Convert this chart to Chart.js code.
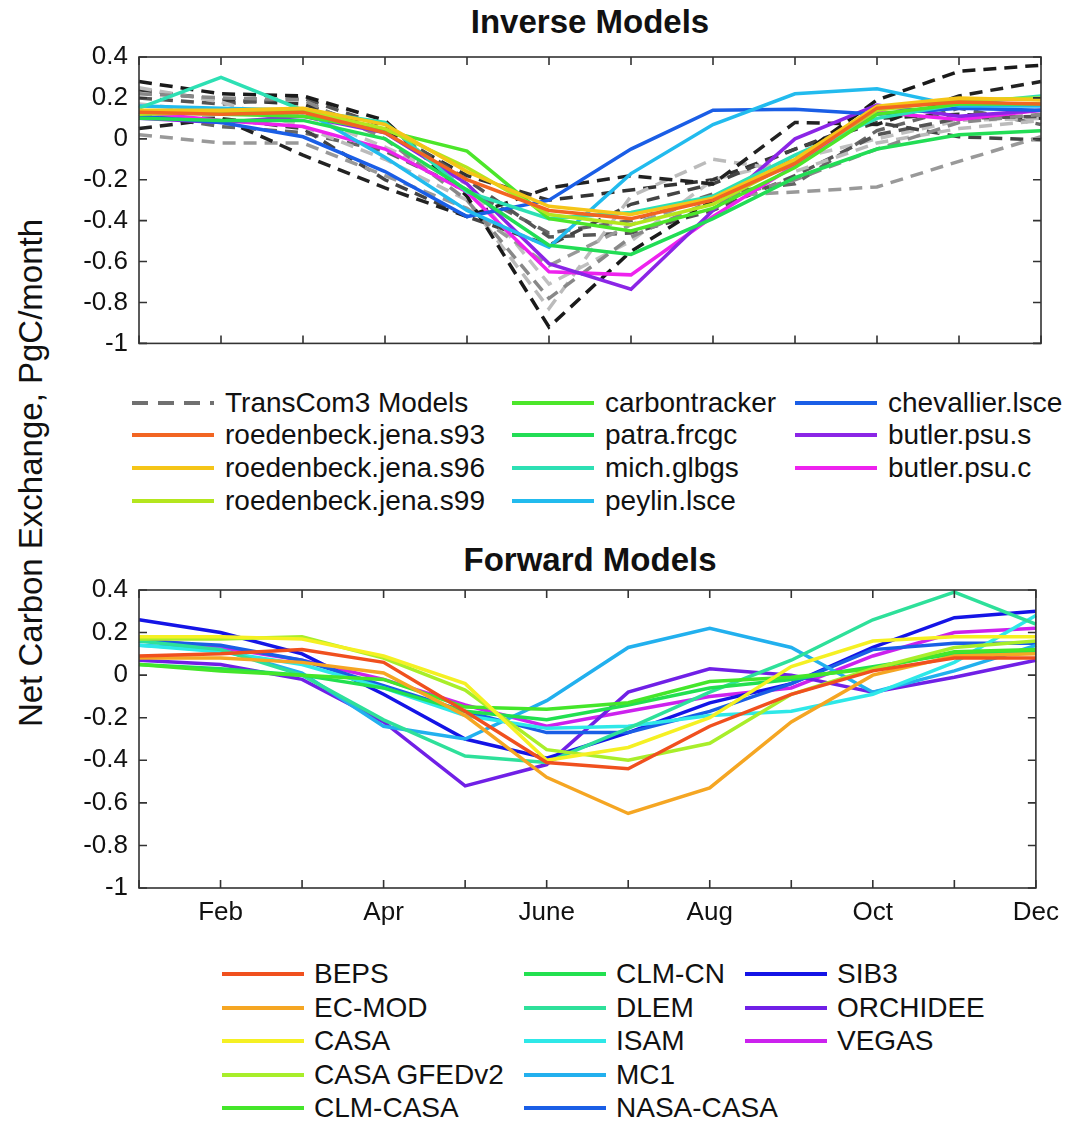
<!DOCTYPE html>
<html>
<head>
<meta charset="utf-8">
<script src="https://cdn.jsdelivr.net/npm/chart.js@4.4.1/dist/chart.umd.min.js"></script>
<style>
  html, body { margin:0; padding:0; background:#fff; }
  body { width:1068px; height:1123px; position:relative; overflow:hidden; font-family:"Liberation Sans", Arial, sans-serif; color:#111; }
  .wrap { position:absolute; left:0; width:1068px; }
  .title { position:absolute; left:139px; width:902px; text-align:center; font-weight:bold; font-size:33px; line-height:40px; }
  .ylab { position:absolute; left:31px; top:473px; font-size:33px; white-space:nowrap; transform:translate(-50%,-50%) rotate(-90deg); }
  .leg { position:absolute; font-size:28px; white-space:nowrap; }
  .leg svg { position:absolute; }
</style>
</head>
<body>
<div class="title" style="top:2px;">Inverse Models</div>
<div class="title" style="top:540px;">Forward Models</div>
<div class="ylab">Net Carbon Exchange, PgC/month</div>
<div class="wrap" style="top:0;height:370px;"><canvas id="c1"></canvas></div>
<div class="wrap" style="top:540px;height:400px;"><canvas id="c2"></canvas></div>
<div id="legends"></div>
<script>
// ---------- data ----------
const months = ['Jan','Feb','Mar','Apr','May','June','July','Aug','Sep','Oct','Nov','Dec'];
const xTickLabels = ['', 'Feb', '', 'Apr', '', 'June', '', 'Aug', '', 'Oct', '', 'Dec'];
const yTicks = [0.4, 0.2, 0, -0.2, -0.4, -0.6, -0.8, -1];

// Inverse models
const invNames = ['roedenbeck.jena.s93','roedenbeck.jena.s96','roedenbeck.jena.s99','carbontracker','patra.frcgc','mich.glbgs','peylin.lsce','chevallier.lsce','butler.psu.s','butler.psu.c'];
const roedenbeckS93 = [0.13,0.12,0.13,0.03,-0.20,-0.35,-0.39,-0.30,-0.12,0.15,0.18,0.17];
const roedenbeckS96 = [0.14,0.14,0.15,0.07,-0.16,-0.33,-0.37,-0.29,-0.10,0.16,0.20,0.19];
const roedenbeckS99 = [0.12,0.13,0.14,0.05,-0.14,-0.37,-0.42,-0.32,-0.11,0.14,0.19,0.20];
const carbontracker = [0.13,0.12,0.11,0.04,-0.06,-0.39,-0.45,-0.34,-0.14,0.12,0.17,0.17];
const patraFrcgc    = [0.10,0.09,0.09,0.00,-0.25,-0.52,-0.565,-0.39,-0.19,-0.05,0.02,0.04];
const michGlbgs     = [0.15,0.30,0.14,0.08,-0.26,-0.39,-0.36,-0.28,-0.08,0.10,0.17,0.21];
const peylinLsce    = [0.16,0.15,0.14,-0.09,-0.35,-0.53,-0.17,0.07,0.22,0.245,0.16,0.16];
const chevallierLsce= [0.11,0.08,0.01,-0.16,-0.38,-0.30,-0.05,0.14,0.145,0.12,0.15,0.14];
const butlerPsuS    = [0.10,0.08,0.11,0.03,-0.22,-0.61,-0.735,-0.35,0.00,0.165,0.11,0.14];
const butlerPsuC    = [0.13,0.09,0.06,-0.05,-0.26,-0.65,-0.665,-0.38,-0.13,0.13,0.095,0.14];
const invColors = ['#f26522','#f5c518','#b4e61e','#4ce62a','#22dd55','#2de0b4','#22bbee','#1a5ee6','#8b25e6','#ee22ee'];

// TransCom3 models (dashed)
const transcomName = 'TransCom3 Models';
const tc1  = [0.28,0.22,0.21,0.09,-0.28,-0.92,-0.55,-0.30,-0.10,0.19,0.33,0.36];
const tc2  = [0.05,0.10,-0.08,-0.24,-0.38,-0.24,-0.18,-0.22,0.08,0.07,0.21,0.28];
const tc3  = [0.22,0.20,0.19,0.00,-0.30,-0.78,-0.48,-0.30,-0.20,-0.05,0.08,0.12];
const tc4  = [0.25,0.18,0.06,-0.10,-0.30,-0.83,-0.28,-0.10,-0.16,-0.02,0.05,0.09];
const tc5  = [0.02,-0.02,-0.02,-0.18,-0.34,-0.62,-0.42,-0.28,-0.26,-0.235,-0.11,0.01];
const tc6  = [0.10,0.10,0.05,-0.20,-0.38,-0.52,-0.32,-0.22,-0.05,0.08,0.01,-0.005];
const tc7  = [0.20,0.17,0.20,0.06,-0.20,-0.48,-0.46,-0.35,-0.18,0.02,0.10,0.11];
const tc8  = [0.17,0.13,0.12,-0.04,-0.22,-0.71,-0.50,-0.20,-0.10,0.00,0.09,0.10];
const tc9  = [0.12,0.06,0.03,-0.06,-0.25,-0.46,-0.40,-0.27,-0.22,0.04,0.15,0.07];
const tc10 = [0.24,0.19,0.17,0.04,-0.18,-0.30,-0.25,-0.20,-0.05,0.10,0.12,0.10];
const tcColors = ['#1a1a1a','#222222','#888888','#bbbbbb','#999999','#444444','#555555','#c0c0c0','#666666','#333333'];
const tcLegendColor = '#707070';

// Forward models
const fwdNames = ['BEPS','EC-MOD','CASA','CASA GFEDv2','CLM-CASA','CLM-CN','DLEM','ISAM','MC1','NASA-CASA','SIB3','ORCHIDEE','VEGAS'];
const beps     = [0.09,0.10,0.12,0.06,-0.17,-0.41,-0.44,-0.24,-0.09,0.02,0.08,0.08];
const ecMod    = [0.08,0.08,0.06,0.01,-0.19,-0.48,-0.65,-0.53,-0.22,0.00,0.09,0.10];
const casa     = [0.18,0.18,0.17,0.09,-0.04,-0.40,-0.34,-0.20,0.04,0.16,0.18,0.18];
const casaGfed = [0.17,0.17,0.18,0.08,-0.07,-0.35,-0.40,-0.32,-0.09,0.03,0.13,0.16];
const clmCasa  = [0.05,0.02,0.00,-0.02,-0.15,-0.16,-0.13,-0.03,-0.01,0.03,0.11,0.12];
const clmCn    = [0.05,0.03,0.00,-0.06,-0.17,-0.21,-0.14,-0.06,-0.02,0.04,0.10,0.11];
const dlem     = [0.16,0.12,0.00,-0.21,-0.38,-0.41,-0.25,-0.08,0.07,0.26,0.39,0.24];
const isam     = [0.14,0.11,0.05,-0.06,-0.19,-0.25,-0.24,-0.19,-0.17,-0.09,0.06,0.28];
const mc1      = [0.14,0.12,0.01,-0.24,-0.30,-0.12,0.13,0.22,0.13,-0.08,0.02,0.14];
const nasaCasa = [0.16,0.14,0.07,-0.05,-0.17,-0.27,-0.27,-0.17,-0.04,0.12,0.15,0.15];
const sib3     = [0.26,0.20,0.10,-0.09,-0.30,-0.39,-0.27,-0.13,-0.04,0.13,0.27,0.30];
const orchidee = [0.07,0.05,-0.02,-0.22,-0.52,-0.42,-0.08,0.03,0.00,-0.08,-0.01,0.07];
const vegas    = [0.17,0.13,0.07,-0.02,-0.14,-0.24,-0.17,-0.10,-0.06,0.09,0.20,0.22];
const fwdColors = ['#f0501e','#f5a623','#f5f023','#a8ee2a','#44e62a','#22e050','#2ee09a','#2ee8e8','#22b0ee','#1a5ee6','#1414e6','#7020e6','#cc22ee'];

// ---------- build ----------
const FONT = '"Liberation Sans", Arial, sans-serif';
const LW = 3.5;
const invSeries = [roedenbeckS93, roedenbeckS96, roedenbeckS99, carbontracker, patraFrcgc, michGlbgs, peylinLsce, chevallierLsce, butlerPsuS, butlerPsuC];
const tcSeries = [tc1, tc2, tc3, tc4, tc5, tc6, tc7, tc8, tc9, tc10];
const fwdSeries = [beps, ecMod, casa, casaGfed, clmCasa, clmCn, dlem, isam, mc1, nasaCasa, sib3, orchidee, vegas];

function solid(label, data, color) {
  return { label, data, borderColor: color, backgroundColor: color, borderWidth: LW, pointRadius: 0, tension: 0, order: 0 };
}
const invDatasets = invSeries.map((d, i) => solid(invNames[i], d, invColors[i]));
tcSeries.forEach((d, i) => invDatasets.push({
  label: transcomName, data: d, borderColor: tcColors[i], backgroundColor: tcColors[i],
  borderWidth: LW, borderDash: [13, 8], pointRadius: 0, tension: 0, order: 1, isTC: true
}));
const fwdDatasets = fwdSeries.map((d, i) => solid(fwdNames[i], d, fwdColors[i]));

// MATLAB style box with inward ticks
const boxPlugin = {
  id: 'boxTicks',
  afterDraw(chart) {
    const { ctx, chartArea: a, scales } = chart;
    const L = 8;
    ctx.save();
    ctx.strokeStyle = '#333';
    ctx.lineWidth = 1.6;
    ctx.strokeRect(a.left, a.top, a.right - a.left, a.bottom - a.top);
    ctx.beginPath();
    scales.x.ticks.forEach((t, i) => {
      const px = scales.x.getPixelForTick(i);
      ctx.moveTo(px, a.bottom); ctx.lineTo(px, a.bottom - L);
      ctx.moveTo(px, a.top); ctx.lineTo(px, a.top + L);
    });
    scales.y.ticks.forEach((t) => {
      const py = scales.y.getPixelForValue(t.value);
      ctx.moveTo(a.left, py); ctx.lineTo(a.left + L, py);
      ctx.moveTo(a.right, py); ctx.lineTo(a.right - L, py);
    });
    ctx.stroke();
    ctx.restore();
  }
};

function makeOptions(showX, padTop, xHeight) {
  return {
    responsive: true, maintainAspectRatio: false, animation: false,
    layout: { padding: { top: padTop, right: 27, left: 0, bottom: 0 } },
    plugins: { legend: { display: false }, tooltip: { enabled: false }, title: { display: false } },
    scales: {
      x: {
        type: 'category', offset: false,
        grid: { display: false, drawTicks: false }, border: { display: false },
        ticks: {
          display: showX, autoSkip: false, maxRotation: 0, padding: 9,
          color: '#111', font: { family: FONT, size: 26 },
          callback: (v, i) => xTickLabels[i]
        },
        afterFit: (s) => { s.height = xHeight; }
      },
      y: {
        min: -1, max: 0.4,
        grid: { display: false, drawTicks: false }, border: { display: false },
        afterBuildTicks: (s) => { s.ticks = yTicks.map(v => ({ value: v })); },
        ticks: {
          padding: 11, color: '#111', font: { family: FONT, size: 26 },
          callback: (v) => String(Number(v.toFixed(1)))
        },
        afterFit: (s) => { s.width = 139; }
      }
    }
  };
}

const chart1 = new Chart(document.getElementById('c1'), {
  type: 'line',
  data: { labels: months, datasets: invDatasets },
  options: makeOptions(false, 57, 16),
  plugins: [boxPlugin]
});
const chart2 = new Chart(document.getElementById('c2'), {
  type: 'line',
  data: { labels: months, datasets: fwdDatasets },
  options: makeOptions(true, 50, 52),
  plugins: [boxPlugin]
});

// ---------- HTML legends built from chart datasets ----------
function buildLegend(chart, order, colX, rowY, lineLen, textOff) {
  const host = document.getElementById('legends');
  const seen = new Set();
  const items = [];
  chart.data.datasets.forEach(ds => {
    if (seen.has(ds.label)) return;
    seen.add(ds.label);
    items.push({ label: ds.label, color: ds.isTC ? tcLegendColor : ds.borderColor, dash: ds.isTC ? [16, 10] : null });
  });
  order.forEach((col, ci) => {
    col.forEach((label, ri) => {
      const it = items.find(x => x.label === label);
      if (!it) return;
      const y = rowY[ri];
      const svgNS = 'http://www.w3.org/2000/svg';
      const svg = document.createElementNS(svgNS, 'svg');
      svg.setAttribute('width', lineLen); svg.setAttribute('height', 8);
      svg.style.position = 'absolute'; svg.style.left = colX[ci] + 'px'; svg.style.top = (y - 4) + 'px';
      const ln = document.createElementNS(svgNS, 'line');
      ln.setAttribute('x1', 0); ln.setAttribute('x2', lineLen); ln.setAttribute('y1', 4); ln.setAttribute('y2', 4);
      ln.setAttribute('stroke', it.color); ln.setAttribute('stroke-width', 4);
      if (it.dash) ln.setAttribute('stroke-dasharray', it.dash.join(' '));
      svg.appendChild(ln);
      host.appendChild(svg);
      const t = document.createElement('div');
      t.className = 'leg';
      t.textContent = it.label;
      t.style.left = (colX[ci] + textOff) + 'px';
      t.style.top = (y - 17) + 'px';
      t.style.lineHeight = '34px';
      host.appendChild(t);
    });
  });
}
buildLegend(chart1,
  [[transcomName, invNames[0], invNames[1], invNames[2]], [invNames[3], invNames[4], invNames[5], invNames[6]], [invNames[7], invNames[8], invNames[9]]],
  [132, 512, 795], [403, 435, 468, 501], 82, 93);
buildLegend(chart2,
  [fwdNames.slice(0, 5), fwdNames.slice(5, 10), fwdNames.slice(10)],
  [222, 524, 745], [974, 1008, 1041, 1075, 1108], 82, 92);
</script>
</body>
</html>
